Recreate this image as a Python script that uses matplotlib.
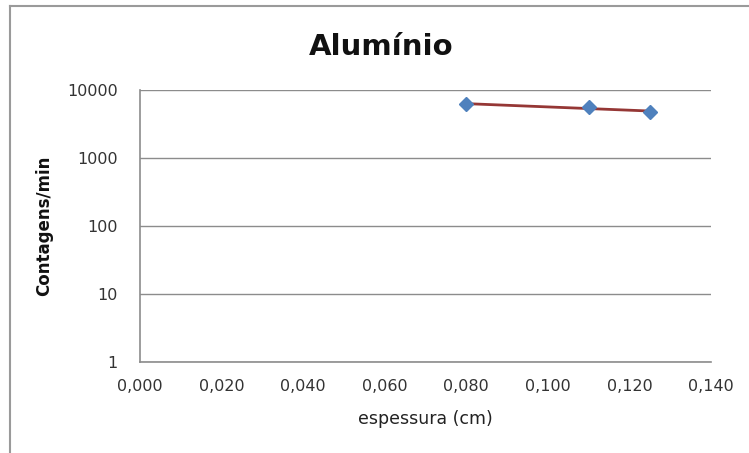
import numpy as np
import matplotlib
matplotlib.use("Agg")
import matplotlib.pyplot as plt
from matplotlib.ticker import FixedLocator, FixedFormatter, NullLocator
from matplotlib.lines import Line2D

plt.rcParams['font.family'] = ['DejaVu Sans']

# Measured thickness (cm) and count rate (counts/min)
espessura = [0.080, 0.110, 0.125]
contagens = [6200, 5600, 4750]

x_ticks = [0.000, 0.020, 0.040, 0.060, 0.080, 0.100, 0.120, 0.140]
x_labels = ["0,000", "0,020", "0,040", "0,060", "0,080", "0,100", "0,120", "0,140"]
y_ticks = [1, 10, 100, 1000, 10000]
y_labels = ["1", "10", "100", "1000", "10000"]

fig = plt.figure(figsize=(7.49, 4.53), dpi=100)
ax = fig.add_axes([140/749, 1 - 362/453, (711 - 140)/749, (362 - 90)/453])

# exponential trendline fitted to the measurements
coef = np.polyfit(espessura, np.log(contagens), 1)
xt = np.array([espessura[0], espessura[-1]])
ax.plot(xt, np.exp(np.polyval(coef, xt)), color="#953735", lw=2, zorder=3)
ax.plot(espessura, contagens, linestyle="none", marker="D", ms=7,
        color="#4F81BD", mec="#4F81BD", zorder=4)

ax.set_yscale("log")
ax.set_xlim(0, 0.14)
ax.set_ylim(1, 10000)
ax.xaxis.set_major_locator(FixedLocator(x_ticks))
ax.xaxis.set_major_formatter(FixedFormatter(x_labels))
ax.yaxis.set_major_locator(FixedLocator(y_ticks))
ax.yaxis.set_major_formatter(FixedFormatter(y_labels))
ax.yaxis.set_minor_locator(NullLocator())
ax.xaxis.set_minor_locator(NullLocator())

ax.grid(axis="y", color="#8c8c8c", lw=1)
ax.set_axisbelow(True)
for s in ["top", "right"]:
    ax.spines[s].set_visible(False)
for s in ["left", "bottom"]:
    ax.spines[s].set_color("#8c8c8c")
    ax.spines[s].set_linewidth(1.2)
ax.tick_params(axis="both", length=0, labelcolor="#333333", labelsize=11.5)
ax.tick_params(axis="x", pad=12)
ax.tick_params(axis="y", pad=16)

ax.set_xlabel("espessura (cm)", fontsize=12.5, color="#222222", labelpad=12)
ax.set_ylabel("Contagens/min", fontsize=12, fontweight="bold", color="#111111", labelpad=10)
fig.text(381/749, 1 - 47/453, "Alumínio", ha="center", va="center",
         fontsize=21, fontweight="bold", color="#111111")

# chart frame
fig.add_artist(Line2D([10/749, 10/749], [0, 1 - 6/453], transform=fig.transFigure,
                      color="#9a9a9a", lw=1.5))
fig.add_artist(Line2D([10/749, 1], [1 - 6/453, 1 - 6/453], transform=fig.transFigure,
                      color="#9a9a9a", lw=1.5))

fig.savefig("out.png", dpi=100)
